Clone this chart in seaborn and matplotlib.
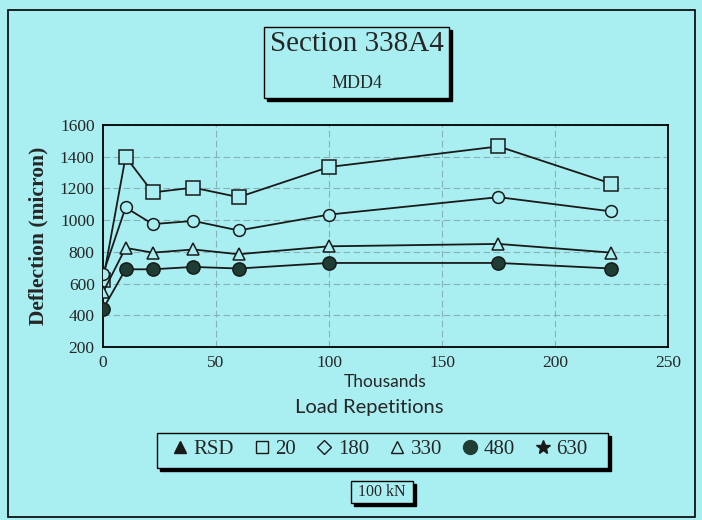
import matplotlib
matplotlib.use("Agg")
import matplotlib.pyplot as plt
import seaborn as sns
from matplotlib.lines import Line2D
from matplotlib.patches import Rectangle

reps = [0, 10, 22, 40, 60, 100, 175, 225]
d20 = [620, 1400, 1175, 1205, 1145, 1335, 1465, 1230]
d180 = [660, 1080, 975, 995, 935, 1035, 1145, 1055]
d330 = [545, 825, 795, 815, 785, 835, 850, 795]
d480 = [440, 690, 690, 705, 695, 730, 730, 695]
legend_labels = ["RSD", "20", "180", "330", "480", "630"]

bg = "#a9eff2"
W, H = 702, 520


def fx(px):
    return px / W


def fy(py):
    return 1 - py / H


def shadow_box(fig, x0, y0, x1, y1, off=3):
    fig.patches.append(Rectangle((fx(x0 + off), fy(y1 + off)), fx(x1 - x0), (y1 - y0) / H,
                                 transform=fig.transFigure, fc="black", ec="black", zorder=1))
    fig.patches.append(Rectangle((fx(x0), fy(y1)), fx(x1 - x0), (y1 - y0) / H,
                                 transform=fig.transFigure, fc=bg, ec="black", lw=1, zorder=2))


sns.set_theme(style="ticks")
plt.rcParams["font.family"] = ["Liberation Serif", "DejaVu Serif"]

fig = plt.figure(figsize=(7.02, 5.2), dpi=100, facecolor=bg)
ax = fig.add_axes([fx(103), fy(347), fx(668 - 103), (347 - 125) / H])
ax.set_facecolor(bg)

series = [
    (d20, "s", 10, bg),
    (d180, "o", 8.5, bg),
    (d330, "^", 9, bg),
    (d480, "o", 9.5, "#1f3d33"),
]
for vals, mk, ms, fc in series:
    sns.lineplot(x=reps, y=vals, ax=ax, color="#1a1a1a", lw=1.3, marker=mk, markersize=ms,
                 markerfacecolor=fc, markeredgecolor="#1a1a1a", markeredgewidth=1.1, zorder=3)

ax.set_xlim(0, 250)
ax.set_ylim(200, 1600)
ax.set_xticks(range(0, 251, 50))
ax.set_yticks(range(200, 1601, 200))
ax.grid(True, ls=(0, (6, 3)), color="#86b2b4", lw=0.8)
for s in ax.spines.values():
    s.set_color("black")
    s.set_linewidth(1.3)
ax.tick_params(axis="both", labelsize=12.5, length=0, pad=6)
ax.set_xlabel("Thousands", fontsize=12.5, family="Lato", labelpad=2)
ax.set_ylabel("Deflection (micron)", fontsize=15.5, fontweight="bold", labelpad=8)
fig.text(fx(369), fy(408), "Load Repetitions", ha="center", va="center", fontsize=14.5, family="Lato")

# title box
shadow_box(fig, 264, 27, 449, 98)
fig.text(fx(357), fy(44), "Section 338A4", ha="center", va="center", fontsize=21, zorder=5)
fig.text(fx(357), fy(83), "MDD4", ha="center", va="center", fontsize=13, zorder=5)

# legend box
shadow_box(fig, 157, 433, 608, 468)
handles = [
    Line2D([], [], ls="none", marker="^", ms=8, mfc="#1a1a1a", mec="#1a1a1a"),
    Line2D([], [], ls="none", marker="s", ms=9, mfc=bg, mec="#1a1a1a"),
    Line2D([], [], ls="none", marker="D", ms=7, mfc=bg, mec="#1a1a1a"),
    Line2D([], [], ls="none", marker="^", ms=9, mfc=bg, mec="#1a1a1a"),
    Line2D([], [], ls="none", marker="o", ms=10, mfc="#1f3d33", mec="#1f3d33"),
    Line2D([], [], ls="none", marker="*", ms=10, mfc="#1a1a1a", mec="#1a1a1a"),
]
leg = fig.legend(handles, legend_labels, loc="center", bbox_to_anchor=(fx(380), fy(449)),
                 ncol=6, frameon=False, fontsize=15, handlelength=0.7, handletextpad=0.3,
                 columnspacing=1.0, borderpad=0.2)
leg.set_zorder(6)

# load box
shadow_box(fig, 351, 481, 413, 503)
fig.text(fx(382), fy(492), "100 kN", ha="center", va="center", fontsize=11.5, zorder=5)

# outer frame
fig.patches.append(Rectangle((fx(8), fy(517)), fx(695 - 8), (517 - 10) / H,
                             transform=fig.transFigure, fc="none", ec="black", lw=1.2, zorder=0))

fig.savefig("out.png", dpi=100, facecolor=bg)
